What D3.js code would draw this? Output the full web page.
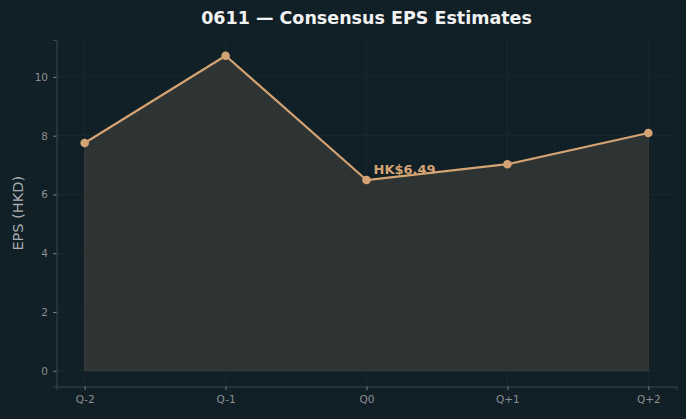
<!DOCTYPE html>
<html>
<head>
<meta charset="utf-8">
<script src="https://cdn.jsdelivr.net/npm/d3@7"></script>
<style>
body { margin: 0; background: #112027; }
svg { display: block; font-family: "DejaVu Sans", sans-serif; }
</style>
</head>
<body>
<div id="chart"></div>
<script>
// Chart data
const quarters = ['Q-2', 'Q-1', 'Q0', 'Q+1', 'Q+2'];
const eps = [7.75, 10.72, 6.49, 7.03, 8.09];
const yTicks = [0, 2, 4, 6, 8, 10];
const currentLabel = 'HK$6.49';

const width = 686, height = 419;
const margin = { top: 40, left: 56.5, right: 9.5, bottom: 32.5 };

const svg = d3.select('#chart')
	.append('svg')
	.attr('width', width)
	.attr('height', height);

svg.append('rect')
	.attr('width', width)
	.attr('height', height)
	.attr('fill', '#112027');

// Scales (matplotlib-style 5% margins)
const xScale = d3.scaleLinear()
	.domain([-0.2, quarters.length - 1 + 0.2])
	.range([margin.left, width - margin.right]);

const yMax = d3.max(eps);
const yScale = d3.scaleLinear()
	.domain([-0.05 * yMax, yMax * 1.05])
	.range([height - margin.bottom, margin.top]);

// Grid
const grid = svg.append('g').attr('class', 'grid');
grid.selectAll('line.h')
	.data(yTicks)
	.enter()
	.append('line')
	.attr('x1', margin.left)
	.attr('x2', width - margin.right)
	.attr('y1', d => yScale(d))
	.attr('y2', d => yScale(d))
	.attr('stroke', '#1b292f')
	.attr('stroke-width', 0.8);
grid.selectAll('line.v')
	.data(quarters)
	.enter()
	.append('line')
	.attr('x1', (d, i) => xScale(i))
	.attr('x2', (d, i) => xScale(i))
	.attr('y1', margin.top)
	.attr('y2', height - margin.bottom)
	.attr('stroke', '#1b292f')
	.attr('stroke-width', 0.8);

// Area fill
const area = d3.area()
	.x((d, i) => xScale(i))
	.y0(yScale(0))
	.y1(d => yScale(d));

svg.append('path')
	.datum(eps)
	.attr('d', area)
	.attr('fill', '#2e3333')
	.attr('stroke', '#3a3d3a')
	.attr('stroke-width', 1);

// Line
const line = d3.line()
	.x((d, i) => xScale(i))
	.y(d => yScale(d));

svg.append('path')
	.datum(eps)
	.attr('d', line)
	.attr('fill', 'none')
	.attr('stroke', '#d4a373')
	.attr('stroke-width', 2.2)
	.attr('stroke-linejoin', 'round');

svg.selectAll('circle.pt')
	.data(eps)
	.enter()
	.append('circle')
	.attr('class', 'pt')
	.attr('cx', (d, i) => xScale(i))
	.attr('cy', d => yScale(d))
	.attr('r', 4.3)
	.attr('fill', '#d4a373');

// Annotation for current quarter
const curIdx = quarters.indexOf('Q0');
svg.append('text')
	.attr('x', xScale(curIdx) + 7)
	.attr('y', yScale(eps[curIdx]) - 6)
	.attr('fill', '#d4a373')
	.attr('font-size', 13)
	.attr('font-weight', 'bold')
	.text(currentLabel);

// Axes
const xAxis = d3.axisBottom(xScale)
	.tickValues(d3.range(quarters.length))
	.tickFormat(i => quarters[i])
	.tickSize(3.5)
	.tickPadding(6);

const yAxis = d3.axisLeft(yScale)
	.tickValues(yTicks)
	.tickSize(3.5)
	.tickPadding(5);

const gx = svg.append('g')
	.attr('transform', `translate(0, ${height - margin.bottom})`)
	.call(xAxis);
const gy = svg.append('g')
	.attr('transform', `translate(${margin.left}, 0)`)
	.call(yAxis);

[gx, gy].forEach(g => {
	g.select('.domain').attr('stroke', '#3b4549');
	g.selectAll('.tick line').attr('stroke', '#7a7f81');
	g.selectAll('.tick text')
		.attr('fill', '#8c8f91')
		.attr('font-size', 10.5)
		.attr('font-family', '"DejaVu Sans", sans-serif');
});

// Y label
svg.append('text')
	.attr('transform', `translate(23, ${(margin.top + height - margin.bottom) / 2}) rotate(-90)`)
	.attr('text-anchor', 'middle')
	.attr('fill', '#a8acae')
	.attr('font-size', 14.5)
	.text('EPS (HKD)');

// Title
svg.append('text')
	.attr('x', (margin.left + width - margin.right) / 2)
	.attr('y', 24)
	.attr('text-anchor', 'middle')
	.attr('fill', '#f2f2f2')
	.attr('font-size', 17.5)
	.attr('font-weight', 'bold')
	.text('0611 — Consensus EPS Estimates');
</script>
</body>
</html>
